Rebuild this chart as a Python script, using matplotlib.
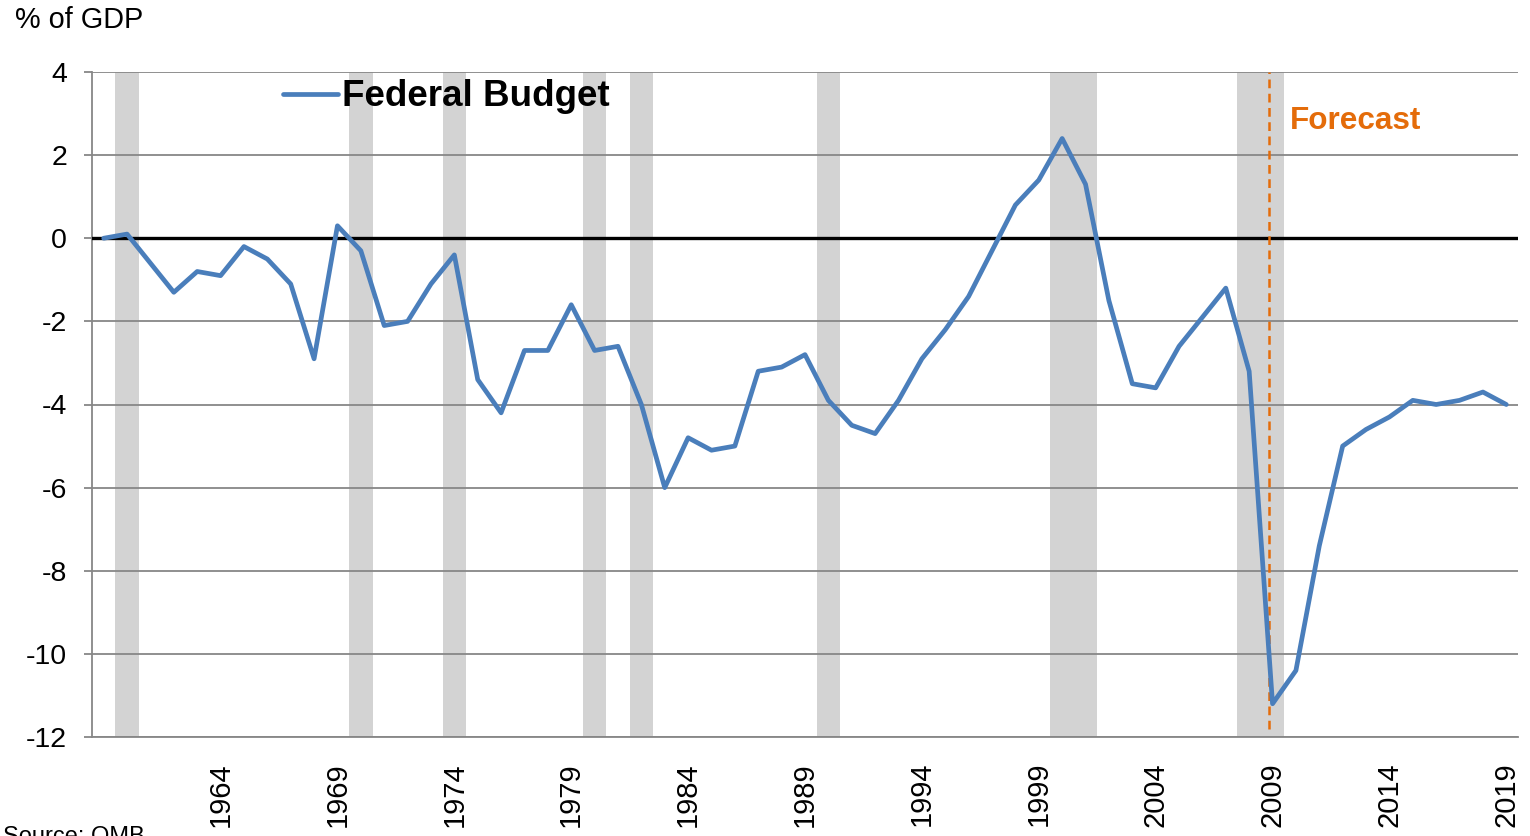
import matplotlib
matplotlib.use("Agg")
import matplotlib.pyplot as plt
import numpy as np

plt.rcParams['font.family'] = ['Liberation Sans', 'DejaVu Sans']
plt.rcParams['axes.unicode_minus'] = False

# ---- data ----
years = list(range(1959, 2020))
budget = [
    0.0, 0.1, -0.6, -1.3, -0.8, -0.9, -0.2, -0.5, -1.1, -2.9,   # 1959-1968
    0.3, -0.3, -2.1, -2.0, -1.1, -0.4, -3.4, -4.2, -2.7, -2.7,  # 1969-1978
    -1.6, -2.7, -2.6, -4.0, -6.0, -4.8, -5.1, -5.0, -3.2, -3.1, # 1979-1988
    -2.8, -3.9, -4.5, -4.7, -3.9, -2.9, -2.2, -1.4, -0.3, 0.8,  # 1989-1998
    1.4, 2.4, 1.3, -1.5, -3.5, -3.6, -2.6, -1.9, -1.2, -3.2,    # 1999-2008
    -11.2, -10.4, -7.4, -5.0, -4.6, -4.3, -3.9, -4.0, -3.9, -3.7, # 2009-2018
    -4.0,                                                       # 2019
]
recession_years = [1960, 1970, 1974, 1980, 1982, 1990, 2000, 2001, 2008, 2009]
xtick_years = [1964, 1969, 1974, 1979, 1984, 1989, 1994, 1999, 2004, 2009, 2014, 2019]
xtick_labels = [str(y) for y in xtick_years]
yticks = [4, 2, 0, -2, -4, -6, -8, -10, -12]
ytick_labels = ['4', '2', '0', '-2', '-4', '-6', '-8', '-10', '-12']
forecast_year = 2009
forecast_bottom = -11.8
series_name = 'Federal Budget'

# ---- figure ----
W, H = 1530, 836
fig = plt.figure(figsize=(W / 100, H / 100), dpi=100)
ax = fig.add_axes([92 / W, 1 - 737 / H, (1518 - 92) / W, (737 - 72) / H])

ymin, ymax = -12, 4
# recession bars
ax.bar(recession_years, [ymax - ymin] * len(recession_years), bottom=ymin,
       width=1.0, color='#D3D3D3', linewidth=0, zorder=1)

# gridlines
for t in yticks:
    if t == 0:
        continue
    ax.axhline(t, color='#878787', linewidth=1.3, zorder=2)
ax.axhline(0, color='black', linewidth=2.4, zorder=3)

# forecast line
ax.vlines(forecast_year - 0.15, forecast_bottom, ymax, colors='#E46C0A',
          linestyles=(0, (3.5, 2.2)), linewidth=1.8, zorder=4)

# series
ax.plot(years, budget, color='#4A7EBB', linewidth=3.4, zorder=5,
        solid_joinstyle='round', solid_capstyle='round', label=series_name)

ax.set_xlim(years[0] - 0.5, years[-1] + 0.5)
ax.set_ylim(ymin, ymax)

ax.set_yticks(yticks)
ax.set_yticklabels(ytick_labels, fontsize=20.5)
ax.set_xticks(xtick_years)
ax.set_xticklabels(xtick_labels, rotation=90, fontsize=21)
ax.tick_params(axis='x', length=0, pad=18)
ax.tick_params(axis='y', length=6, width=1.3, color='#878787', pad=12)

for s in ['top', 'right']:
    ax.spines[s].set_visible(False)
for s in ['left', 'bottom']:
    ax.spines[s].set_color('#878787')
    ax.spines[s].set_linewidth(1.3)
ax.spines['bottom'].set_zorder(2)

# texts
ax.text(2009.75, 2.83, 'Forecast', color='#E46C0A', fontsize=22.7,
        fontweight='bold', ha='left', va='center', zorder=6)
fig.text(15 / W, 1 - 20 / H, '% of GDP', fontsize=20.8, ha='left', va='center')
fig.text(3 / W, 1 - 826 / H, 'Source: OMB', fontsize=17, ha='left', va='top')

leg = ax.legend(loc='center left', bbox_to_anchor=(283 / W, 1 - 97 / H),
                bbox_transform=fig.transFigure, frameon=False,
                prop={'size': 26.5, 'weight': 'bold'},
                handlelength=1.5, handletextpad=0.1, borderpad=0,
                borderaxespad=0)

fig.savefig('out.png', dpi=100)
